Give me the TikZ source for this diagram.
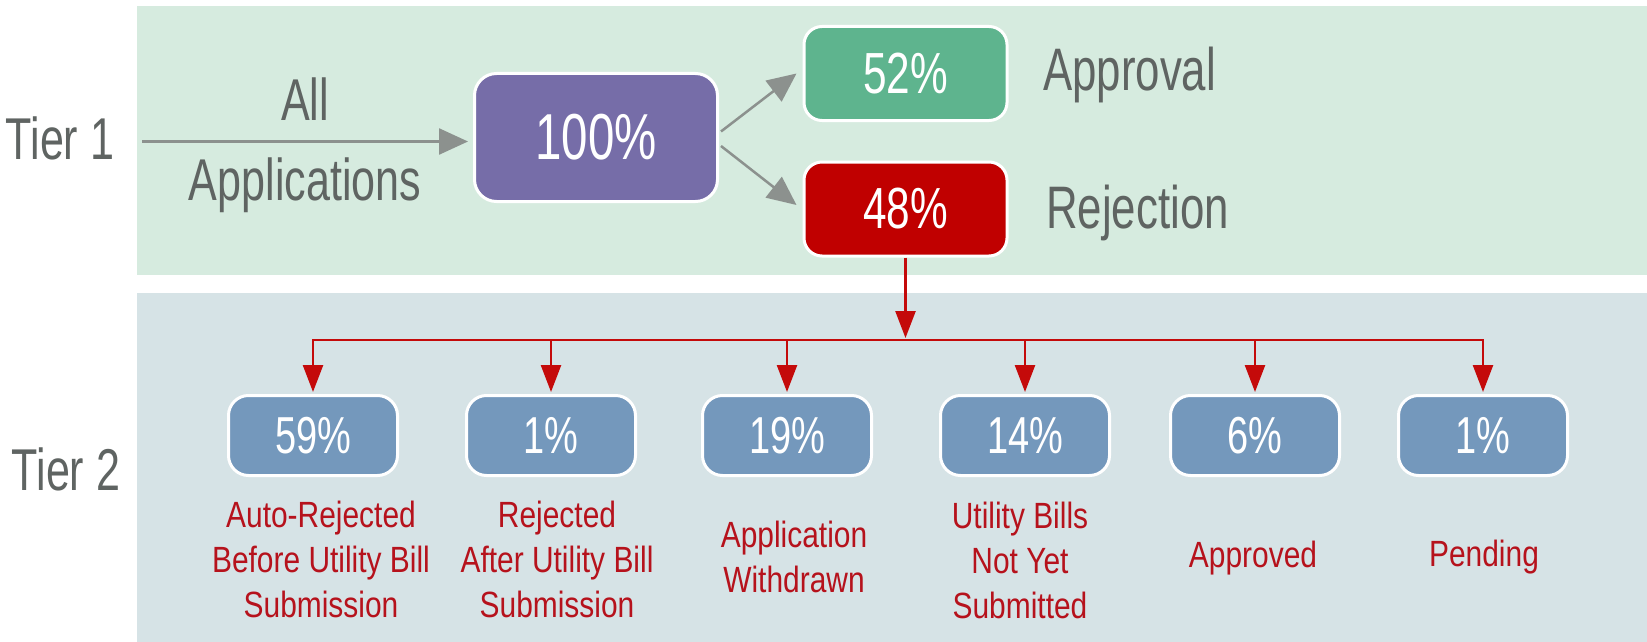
\documentclass[tikz,border=0pt]{standalone}
\usepackage{fontspec}
\setmainfont{Liberation Sans}[FakeStretch=0.73]
\newfontfamily\labelfont{Liberation Sans}[FakeStretch=0.82]
\usetikzlibrary{arrows.meta,calc}
\definecolor{panelgreen}{RGB}{214,235,223}
\definecolor{panelblue}{RGB}{214,227,230}
\definecolor{boxpurple}{RGB}{118,109,168}
\definecolor{boxgreen}{RGB}{94,180,142}
\definecolor{boxred}{RGB}{192,0,0}
\definecolor{boxblue}{RGB}{116,152,188}
\definecolor{textgray}{RGB}{95,100,98}
\definecolor{arrowgray}{RGB}{140,145,142}
\definecolor{labelred}{RGB}{182,18,28}
\definecolor{linkred}{RGB}{196,10,10}
\newcommand\labstrut{\rule{0pt}{31pt}}

\begin{document}
\begin{tikzpicture}[x=1pt,y=-1pt,
  tier/.style={anchor=base,text=textgray,font=\fontsize{59}{62}\selectfont,inner sep=0pt},
  caption/.style={anchor=base west,text=textgray,font=\fontsize{60}{62}\selectfont,inner sep=0pt},
  pbox/.style={draw=white,line width=3pt,text=white,inner sep=0pt},
  bigbox/.style={pbox,rounded corners=22pt,minimum width=243pt,minimum height=128pt,fill=boxpurple,font=\fontsize{65}{68}\selectfont},
  midbox/.style={pbox,rounded corners=18pt,minimum width=203pt,minimum height=94pt,font=\fontsize{58}{62}\selectfont},
  smallbox/.style={pbox,rounded corners=20pt,minimum width=169pt,minimum height=80pt,fill=boxblue,font=\fontsize{52}{56}\selectfont},
  outcome/.style={anchor=north,align=center,text=labelred,inner sep=0pt,font=\labelfont\fontsize{36.5}{45}\selectfont},
  grayarrow/.style={draw=arrowgray,line width=2.5pt,-{Triangle[length=29pt,width=26pt]}},
  redline/.style={draw=linkred,line width=2.5pt},
  redarrow/.style={redline,-{Triangle[length=27pt,width=20pt]}},
]
% canvas and the two tier bands
\fill[white] (0,0) rectangle (1647,642);
\useasboundingbox (0,0) rectangle (1647,642);
\fill[panelgreen] (137,6) rectangle (1647,275);
\fill[panelblue] (137,293) rectangle (1647,642);

% tier labels
\node[tier] (tier1) at (60,159) {Tier 1};
\node[tier] (tier2) at (66,490) {Tier 2};

% tier 1
\node[tier] (all) at (305,120) {All};
\node[tier] (apps) at (305,200) {Applications};
\node[bigbox] (total) at (596,137.5) {100\%};
\node[midbox,fill=boxgreen] (approve) at (905.5,73.5) {52\%};
\node[midbox,fill=boxred] (reject) at (905.5,209) {48\%};
\node[caption] (approvaltxt) at (1043,90) {Approval};
\node[caption] (rejectiontxt) at (1046,228) {Rejection};

\coordinate (start) at (142,141.5);
\draw[grayarrow,shorten >=5pt] (start) -- (start -| total.west);
\draw[grayarrow] ($(total.east)+(2,-6)$) -- ($(approve.west)+(-6,0)$);
\draw[grayarrow] ($(total.east)+(2,8.5)$) -- ($(reject.west)+(-6,-4)$);

% tier 2 boxes
\foreach \n/\x/\p in {t1/313/59,t2/551/1,t3/787/19,t4/1025/14,t5/1255/6,t6/1483/1}
  \node[smallbox] (\n) at (\x,435.5) {\p\%};

% outcome captions
\node[outcome] (o1) at (321,496) {\labstrut Auto-Rejected\\Before Utility Bill\\Submission};
\node[outcome] (o2) at (557,496) {\labstrut Rejected\\After Utility Bill\\Submission};
\node[outcome] (o3) at (794,516) {\labstrut Application\\Withdrawn};
\node[outcome] (o4) at (1020,497) {\labstrut Utility Bills\\Not Yet\\Submitted};
\node[outcome] (o5) at (1253,536) {\labstrut Approved};
\node[outcome] (o6) at (1484,535) {\labstrut Pending};

% rejection breakdown connectors
\coordinate (bar) at (905.5,340);
\draw[redarrow,shorten >=2pt] (reject.south) -- (bar);
\foreach \n in {t1,t2,t3,t4,t5,t6}
  \draw[redarrow,shorten >=2pt] (bar) -| (\n.north);
\end{tikzpicture}
\end{document}
